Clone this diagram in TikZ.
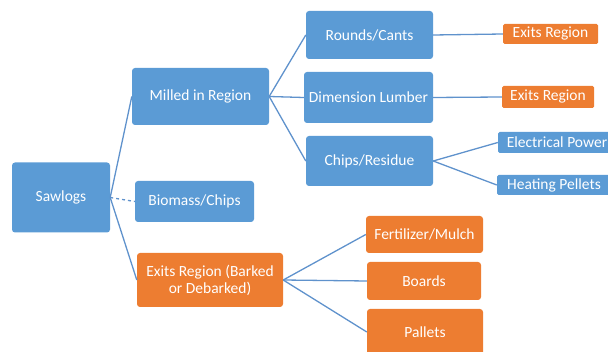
\documentclass[tikz,border=0pt]{standalone}
\usepackage{fontspec}
\setmainfont{Carlito}
\usepackage{xcolor}
\definecolor{boxblue}{HTML}{5B9BD5}
\definecolor{boxorange}{HTML}{ED7D31}
\definecolor{linkblue}{HTML}{5F92CC}
\usetikzlibrary{positioning}

\begin{document}
\begin{tikzpicture}[
  x=1pt, y=-1pt,
  bluebox/.style={rectangle, fill=boxblue, rounded corners=3pt,
                  text=white, font=\fontsize{15.5}{17}\selectfont,
                  align=center, inner sep=2pt},
  orangebox/.style={bluebox, fill=boxorange},
  link/.style={draw=linkblue, line width=1.3pt},
]
\useasboundingbox (0,0) rectangle (608,352);
\clip (0,0) rectangle (608,352);

% Level 1
\node[bluebox, minimum width=98pt, minimum height=70pt] (saw) at (61,197.5) {Sawlogs};

% Level 2
\node[bluebox, minimum width=137pt, minimum height=57pt] (mill) at (200.5,96.5) {Milled in Region};
\node[bluebox, minimum width=119pt, minimum height=41pt] (bio) at (194.5,201.5) {Biomass/Chips};
\node[orangebox, minimum width=146pt, minimum height=54pt] (exb) at (210,280) {Exits Region (Barked\\or Debarked)};

% Level 3
\node[bluebox, minimum width=127pt, minimum height=48pt] (round) at (369.5,35) {Rounds/Cants};
\node[bluebox, minimum width=129pt, minimum height=51pt] (dim) at (368.5,97.5) {Dimension Lumber};
\node[bluebox, minimum width=127pt, minimum height=50pt] (chip) at (369.5,161) {Chips/Residue};
\node[orangebox, minimum width=117pt, minimum height=37pt] (fert) at (424.5,234.5) {Fertilizer/Mulch};
\node[orangebox, minimum width=114pt, minimum height=38pt] (board) at (424,281) {Boards};
\node[orangebox, minimum width=116pt, minimum height=46pt] (pallet) at (425,332) {Pallets};

% Level 4
\node[orangebox, minimum width=95pt, minimum height=20pt, rounded corners=1.5pt] (ex1) at (550.5,34) {Exits Region};
\node[orangebox, minimum width=92pt, minimum height=22pt, rounded corners=1.5pt] (ex2) at (548,97) {Exits Region};
\node[bluebox, minimum width=118pt, minimum height=21pt, rounded corners=1.5pt, inner ysep=0pt] (elec) at (557,142.5) {Electrical Power};
\node[bluebox, minimum width=114pt, minimum height=20pt, rounded corners=1.5pt, inner ysep=0pt] (heat) at (554,185) {Heating Pellets};

% Lines
\draw[link] (saw.east) -- (mill.west);
\draw[link, dashed] (saw.east) -- (bio.west);
\draw[link] (saw.east) -- (exb.west);
\draw[link] (mill.east) -- (round.west);
\draw[link] (mill.east) -- (dim.west);
\draw[link] (mill.east) -- (chip.west);
\draw[link] (round.east) -- (ex1.west);
\draw[link] (dim.east) -- (ex2.west);
\draw[link] (chip.east) -- (elec.west);
\draw[link] (chip.east) -- (heat.west);
\draw[link] (exb.east) -- (fert.west);
\draw[link] (exb.east) -- (board.west);
\draw[link] (exb.east) -- (pallet.west);

\end{tikzpicture}
\end{document}
